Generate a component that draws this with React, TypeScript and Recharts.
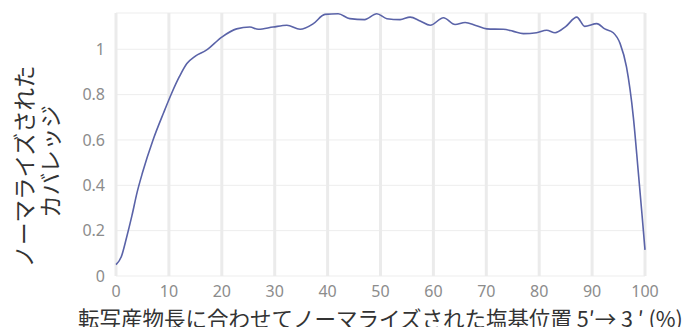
import { LineChart, Line, XAxis, YAxis, CartesianGrid, Label } from "recharts";

// normalized base position along transcript (%)
const positions = [
  0, 1, 2, 3, 4, 5, 7, 9, 10.5, 12, 13.4, 15, 17, 20, 22.8, 25.3, 26.9, 29.7, 32.3, 34.8,
  37.3, 39.5, 42, 44.2, 47, 49.3, 51.2, 53.7, 55.6, 57.5, 59.4, 61.9, 64.1, 66, 68, 70.1,
  73.2, 75, 77, 79.5, 81.4, 83, 85, 87.1, 88.6, 90.9, 92.4, 94, 95.3, 96.5, 97.8, 98.7,
  99.4, 100,
];

// normalized coverage
const coverage = [
  0.05, 0.085, 0.17, 0.265, 0.37, 0.455, 0.6, 0.72, 0.805, 0.88, 0.937, 0.97, 0.995, 1.054,
  1.09, 1.098, 1.088, 1.098, 1.106, 1.088, 1.113, 1.154, 1.157, 1.135, 1.131, 1.157, 1.135,
  1.131, 1.142, 1.125, 1.106, 1.139, 1.109, 1.118, 1.105, 1.09, 1.088, 1.08, 1.069, 1.073,
  1.084, 1.073, 1.1, 1.142, 1.101, 1.113, 1.09, 1.073, 1.025, 0.922, 0.7, 0.467, 0.28, 0.115,
];

const xTicks = [0, 10, 20, 30, 40, 50, 60, 70, 80, 90, 100];
const yTicks = [0, 0.2, 0.4, 0.6, 0.8, 1];

const xTitle = "転写産物長に合わせてノーマライズされた塩基位置 5′→ 3 ′ (%)";
const yTitleLines = ["ノーマライズされた", "カバレッジ"];

const data = positions.map((p, i) => ({ pos: p, cov: coverage[i] }));

const JP_FONT = '"Noto Sans CJK JP", "Noto Sans", sans-serif';
const tickStyle = { fill: "#8c8c8c", fontSize: 16, fontFamily: '"Noto Sans", sans-serif' };

function YTitle(props: any) {
  const vb = props.viewBox || { x: 0, y: 0, width: 0, height: 0 };
  const cy = vb.y + vb.height / 2 + 22;
  return (
    <g>
      <text
        x={23}
        y={cy}
        transform={`rotate(-90, 23, ${cy})`}
        textAnchor="middle"
        dominantBaseline="central"
        fontSize={22.5}
        fontFamily={JP_FONT}
        fill="#333"
      >
        {yTitleLines[0]}
      </text>
      <text
        x={49}
        y={cy - 5}
        transform={`rotate(-90, 49, ${cy - 5})`}
        textAnchor="middle"
        dominantBaseline="central"
        fontSize={22.5}
        fontFamily={JP_FONT}
        fill="#333"
      >
        {yTitleLines[1]}
      </text>
    </g>
  );
}

export default function App() {
  return (
    <div style={{ width: 700, height: 335, margin: -8, background: "#fff" }}>
      <LineChart width={700} height={335} data={data} margin={{ top: 13, right: 55, left: 0, bottom: 0 }}>
        <CartesianGrid vertical={false} stroke="#ededed" strokeWidth={1} />
        <CartesianGrid horizontal={false} stroke="#ebebeb" strokeWidth={3} />
        <XAxis
          dataKey="pos"
          type="number"
          domain={[0, 100]}
          ticks={xTicks}
          axisLine={false}
          tickLine={false}
          tickMargin={4}
          height={59}
          tick={tickStyle}
        >
          <Label
            value={xTitle}
            position="insideBottom"
            offset={8}
            style={{ fontSize: 21.5, fontFamily: JP_FONT, fill: "#333" }}
          />
        </XAxis>
        <YAxis
          type="number"
          domain={[0, 1.16]}
          ticks={yTicks}
          axisLine={false}
          tickLine={false}
          tickMargin={5}
          width={116}
          tick={tickStyle}
        >
          <Label content={<YTitle />} />
        </YAxis>
        <Line
          dataKey="cov"
          type="monotone"
          stroke="#5a63a8"
          strokeWidth={1.6}
          dot={false}
          isAnimationActive={false}
        />
      </LineChart>
    </div>
  );
}
